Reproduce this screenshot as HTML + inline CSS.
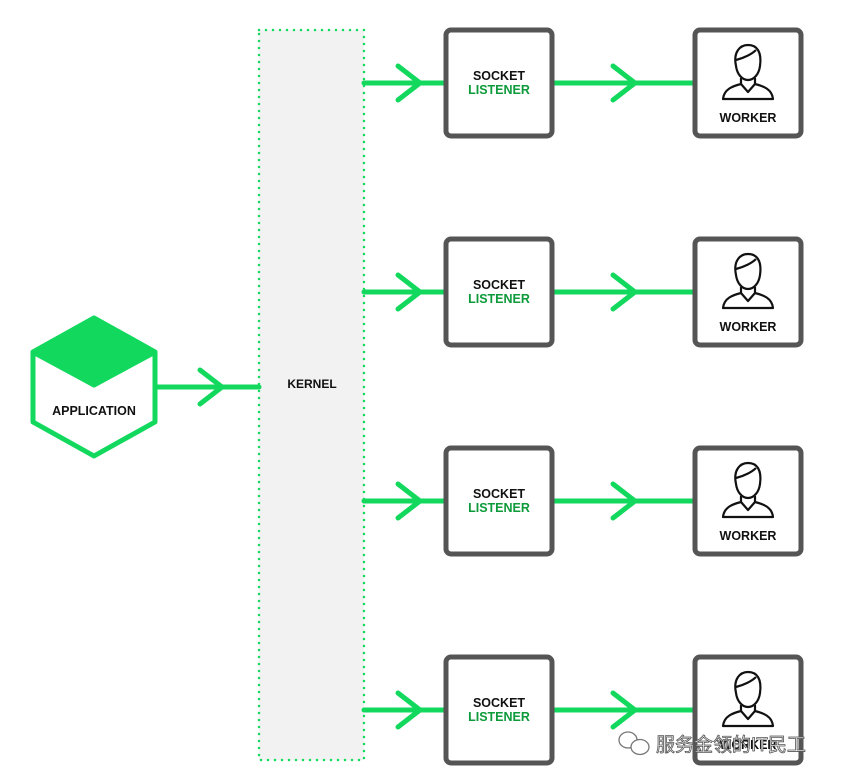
<!DOCTYPE html>
<html><head><meta charset="utf-8"><style>body{margin:0;background:#fff}svg{display:block}</style></head><body>
<svg width="850" height="780" viewBox="0 0 850 780" xmlns="http://www.w3.org/2000/svg" font-family="Liberation Sans, sans-serif">
<defs>
<g id="arrowA" stroke="#12d95e" stroke-width="5" fill="none" stroke-linecap="round" stroke-linejoin="round">
<line x1="364" y1="0" x2="445" y2="0"/><polyline points="398,-17 420,0 398,17"/>
<line x1="553" y1="0" x2="694" y2="0"/><polyline points="613,-17 635,0 613,17"/>
</g>
<g id="person" fill="none" stroke="#111" stroke-width="2.2" stroke-linejoin="round">
<path d="M736,66 C733,52 740,45 748,45 C757,45 762,52 760,66 C759,74 754,80 748,80 C742,80 737,74 736,66 Z"/>
<path d="M736,60 C744,58 752,54 756,50"/>
<path d="M741,78 L741,84 C733,86 724,89 723,99 L773,99 C772,89 763,86 755,84 L755,78"/>
<path d="M741,84 L748,92 L755,84"/>
</g>
</defs>
<rect x="259" y="30" width="105" height="730" fill="#f2f2f2"/>
<rect x="259" y="30" width="105" height="730" fill="none" stroke="#12d95e" stroke-width="2.5" stroke-dasharray="0 7" stroke-linecap="round"/>
<text x="312" y="388" font-size="12" font-weight="bold" text-anchor="middle" fill="#111">KERNEL</text>
<!-- application -->
<path d="M94,318 L155,352 L155,422 L94,456 L33,422 L33,352 Z" fill="#fff" stroke="#12d95e" stroke-width="5" stroke-linejoin="round"/>
<path d="M94,318 L155,352 L94,385 L33,352 Z" fill="#12d95e" stroke="#12d95e" stroke-width="5" stroke-linejoin="round"/>
<text x="94" y="415" font-size="12.5" font-weight="bold" text-anchor="middle" fill="#111">APPLICATION</text>
<g stroke="#12d95e" stroke-width="5" fill="none" stroke-linecap="round" stroke-linejoin="round">
<line x1="157" y1="387" x2="259" y2="387"/><polyline points="200,370 222,387 200,404"/>
</g>
<g id="row">
<use href="#arrowA" transform="translate(0,83)"/>
<rect x="446" y="30" width="106" height="106" rx="5" fill="#fff" stroke="#555" stroke-width="5"/>
<text x="499" y="80" font-size="12.5" font-weight="bold" text-anchor="middle" fill="#111">SOCKET</text>
<text x="499" y="94" font-size="12.5" font-weight="bold" text-anchor="middle" fill="#0d9a3a">LISTENER</text>
<rect x="695" y="30" width="106" height="106" rx="5" fill="#fff" stroke="#555" stroke-width="5"/>
<use href="#person"/>
<text x="748" y="122" font-size="12.5" font-weight="bold" text-anchor="middle" fill="#111">WORKER</text>
</g>
<use href="#row" transform="translate(0,209)"/>
<use href="#row" transform="translate(0,418)"/>
<use href="#row" transform="translate(0,627)"/>
<g fill="#fff" stroke="#777" stroke-width="1.3">
<ellipse cx="628" cy="740" rx="9" ry="8"/><ellipse cx="640" cy="747" rx="9" ry="7.5"/>
</g>
<text x="656" y="751" font-size="19" fill="#fff" stroke="#555" stroke-width="0.8" font-family="Liberation Sans, Noto Sans CJK SC, sans-serif">服务金领的IT民工</text>
</svg>
</body></html>
